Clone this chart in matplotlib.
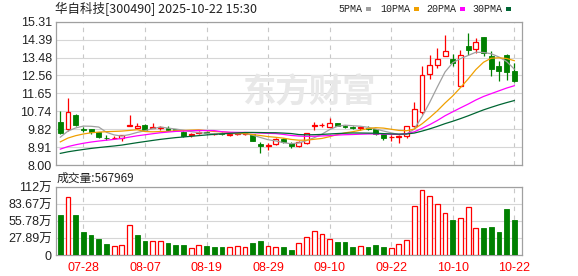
import numpy as np
import matplotlib
matplotlib.use('Agg')
import matplotlib.pyplot as plt
from matplotlib.patches import Rectangle

title = '华自科技[300490] 2025-10-22 15:30'
volume_caption = '成交量:567969'
ma_labels = ['5PMA', '10PMA', '20PMA', '30PMA']
ma_windows = [5, 10, 20, 30]

dates = ['07-23', '07-24', '07-25', '07-28', '07-29', '07-30', '07-31',
         '08-01', '08-04', '08-05', '08-06', '08-07', '08-08', '08-11',
         '08-12', '08-13', '08-14', '08-15', '08-18', '08-19', '08-20',
         '08-21', '08-22', '08-25', '08-26', '08-27', '08-28', '08-29',
         '09-01', '09-02', '09-03', '09-04', '09-05', '09-08', '09-09',
         '09-10', '09-11', '09-12', '09-15', '09-16', '09-17', '09-18',
         '09-19', '09-22', '09-23', '09-24', '09-25', '09-26', '09-29',
         '09-30', '10-09', '10-10', '10-13', '10-14', '10-15', '10-16',
         '10-17', '10-20', '10-21', '10-22']

opens = [10.21, 9.86, 10.56, 9.84, 9.83, 9.67, 9.40, 9.36, 9.37, 9.98,
         9.88, 10.06, 9.90, 9.88, 9.90, 9.82, 9.68, 9.52, 9.62, 9.68,
         9.56, 9.65, 9.52, 9.58, 9.60, 9.56, 9.05, 8.97, 9.08, 9.34,
         9.13, 8.97, 9.10, 10.00, 10.02, 9.96, 10.13, 9.99, 9.92, 9.88,
         9.88, 9.82, 9.58, 9.42, 9.43, 9.46, 9.99, 10.68, 12.65, 13.12,
         13.54, 13.39, 12.03, 14.08, 13.94, 14.54, 13.55, 13.03, 13.60, 12.82]
highs = [10.77, 11.42, 10.58, 9.96, 9.85, 9.70, 9.52, 9.50, 9.54, 10.55,
         10.16, 10.10, 10.13, 10.00, 9.98, 9.86, 9.72, 9.62, 9.72, 9.72,
         9.65, 9.68, 9.60, 9.66, 9.70, 9.60, 9.17, 9.13, 9.36, 9.40,
         9.15, 9.20, 9.64, 10.20, 10.15, 10.39, 10.16, 10.02, 9.99, 9.99,
         9.98, 9.85, 9.62, 9.55, 9.55, 10.00, 11.19, 13.03, 13.60, 13.99,
         14.63, 13.68, 13.85, 14.72, 14.49, 14.54, 13.80, 13.29, 13.68, 13.20]
lows = [9.60, 9.74, 9.97, 9.70, 9.58, 9.40, 9.30, 9.35, 9.22, 9.98,
        9.86, 9.76, 9.88, 9.78, 9.74, 9.72, 9.45, 9.45, 9.58, 9.58,
        9.52, 9.52, 9.48, 9.55, 9.55, 9.20, 8.62, 8.74, 9.03, 9.12,
        8.88, 8.92, 9.08, 9.79, 9.95, 9.94, 9.98, 9.88, 9.82, 9.80,
        9.78, 9.52, 9.27, 9.20, 9.10, 9.38, 9.95, 10.62, 12.40, 12.94,
        13.54, 13.05, 12.00, 13.60, 13.73, 13.56, 12.52, 12.26, 12.35, 12.22]
closes = [9.65, 10.71, 10.05, 9.81, 9.66, 9.45, 9.37, 9.38, 9.52, 10.04,
          10.00, 9.79, 9.92, 9.93, 9.77, 9.76, 9.49, 9.56, 9.67, 9.62,
          9.60, 9.57, 9.58, 9.61, 9.63, 9.22, 8.98, 9.01, 9.31, 9.17,
          8.96, 9.18, 9.62, 10.04, 10.06, 10.13, 10.01, 9.92, 9.90, 9.93,
          9.85, 9.58, 9.40, 9.45, 9.47, 9.98, 10.85, 12.57, 13.08, 13.43,
          13.80, 13.22, 13.60, 13.89, 14.25, 13.73, 12.91, 12.77, 12.74, 12.31]
# closes before the window, estimated from where the MA lines start
earlier_closes = [8.30, 8.20, 8.10, 8.05, 8.10, 8.15, 8.20, 8.15, 8.20, 8.15,
                  8.10, 8.20, 8.30, 8.40, 8.45, 8.50, 8.55, 8.60, 8.60, 8.70,
                  8.75, 8.85, 8.95, 9.05, 9.10, 9.15, 9.25, 9.35, 9.70]
# volume in 万
volumes = [66, 95, 66, 37.6, 33, 26.5, 18, 15, 16, 49,
           33, 23, 23, 23, 20, 16.5, 16.5, 11, 16, 15,
           13, 13, 13, 15, 13, 20, 23, 15, 13, 13,
           8.3, 19.4, 29, 39, 34, 26, 21.5, 21.5, 13, 14.4,
           13, 16.5, 13, 11, 17.7, 24, 81, 106, 96, 84,
           69, 58, 61, 79, 44, 44, 46, 38, 75, 56.7969]

price_ticks = [8.00, 8.91375, 9.8275, 10.74125, 11.655, 12.56875, 13.4825, 14.39625, 15.31]
price_tick_labels = ['8.00', '8.91', '9.82', '10.74', '11.65', '12.56', '13.48', '14.39', '15.31']
vol_ticks = [0, 27.89, 55.78, 83.67, 111.56]
vol_tick_labels = ['0', '27.89万', '55.78万', '83.67万', '112万']

RED = '#ff0000'
GREEN = '#008000'
MA_COLORS = ['#a0a0a0', '#f0a000', '#ff00ff', '#006633']
GRID = '#d6d6d6'
SPINE = '#a0a0a0'
NUM_FONT = ['Liberation Sans', 'Noto Sans CJK SC']
CJK_FONT = ['Noto Sans CJK SC', 'DejaVu Sans']

W, H = 578, 276
fig = plt.figure(figsize=(W / 100, H / 100), dpi=100)


def axes_px(x0, y0, x1, y1):
    return fig.add_axes([x0 / W, 1 - y1 / H, (x1 - x0) / W, (y1 - y0) / H])


ax = axes_px(56, 21.7, 522, 165)
axv = axes_px(56, 187, 522, 255)

n = len(closes)
x = np.arange(n)
o = np.array(opens)
h = np.array(highs)
l = np.array(lows)
c = np.array(closes)
all_closes = np.array(earlier_closes + closes)
offset = len(earlier_closes)
prev_close = all_closes[offset - 1:offset - 1 + n]

body_w = 0.64
for i in range(n):
    up = c[i] >= o[i]
    col = RED if up else GREEN
    lo, hi = min(o[i], c[i]), max(o[i], c[i])
    bh = max(hi - lo, 0.012)
    if up:
        ax.vlines(i, hi, h[i], color=col, lw=0.9, zorder=3)
        ax.vlines(i, l[i], lo, color=col, lw=0.9, zorder=3)
        ax.add_patch(Rectangle((i - body_w / 2, lo), body_w, bh,
                               fc='white', ec=col, lw=0.9, zorder=3))
    else:
        ax.vlines(i, l[i], h[i], color=col, lw=0.9, zorder=3)
        ax.add_patch(Rectangle((i - body_w / 2, lo), body_w, bh,
                               fc=col, ec=col, lw=0.6, zorder=3))

for win, col in zip(ma_windows, MA_COLORS):
    ma = [all_closes[offset + i - win + 1:offset + i + 1].mean() for i in range(n)]
    ax.plot(x, ma, color=col, lw=0.9, zorder=4)

vol_w = 0.62
for i in range(n):
    if c[i] >= prev_close[i]:
        axv.add_patch(Rectangle((i - vol_w / 2, 0), vol_w, volumes[i],
                                fc='white', ec=RED, lw=0.9, zorder=3))
    else:
        axv.add_patch(Rectangle((i - vol_w / 2, 0), vol_w, volumes[i],
                                fc=GREEN, ec=GREEN, lw=0.6, zorder=3))

tick_idx = list(range(3, n, 8))
for a in (ax, axv):
    a.set_xlim(-0.56, n)
    a.set_xticks(tick_idx)
    a.grid(axis='x', color='#c8c8c8', lw=0.8, ls=(0, (4, 4)))
    a.grid(axis='y', color=GRID, lw=0.8)
    a.set_axisbelow(True)
    for s in a.spines.values():
        s.set_color(SPINE)
        s.set_linewidth(0.9)
    a.tick_params(length=0, pad=3, labelsize=9, labelcolor='#222222')

ax.set_ylim(8.00, 15.31)
ax.set_yticks(price_ticks)
ax.set_yticklabels(price_tick_labels, family=NUM_FONT)
ax.set_xticklabels([])

axv.set_ylim(0, 111.56)
axv.set_yticks(vol_ticks)
axv.set_yticklabels(vol_tick_labels, family=NUM_FONT)
axv.set_xticklabels([dates[i] for i in tick_idx], family=NUM_FONT, color=RED)
axv.tick_params(axis='x', pad=5)

# watermark
ax.text(309 / W, 1 - 93 / H, '东方财富', transform=fig.transFigure,
        ha='center', va='center', fontsize=24, weight='bold',
        color='#e8e8e8', family=CJK_FONT, zorder=1)

fig.text(55 / W, 1 - 9 / H, title, ha='left', va='center', fontsize=9,
         color='#222222', family=CJK_FONT)
fig.text(57 / W, 1 - 178 / H, volume_caption, ha='left', va='center',
         fontsize=8.5, color='#222222', family=CJK_FONT)

# MA legend
label_x = [338, 380, 426, 472]
for lab, col, lx in zip(ma_labels, MA_COLORS, label_x):
    t = fig.text(lx / W, 1 - 9 / H, lab, ha='left', va='center', fontsize=7.2,
                 color='#222222', family='Liberation Mono')
    sx = lx + 6 * len(lab) + 4
    fig.patches.append(Rectangle((sx / W, 1 - 10.5 / H), 5 / W, 3 / H,
                                 transform=fig.transFigure, fc=col, ec='none'))

fig.savefig('out.png', dpi=100, facecolor='white')
